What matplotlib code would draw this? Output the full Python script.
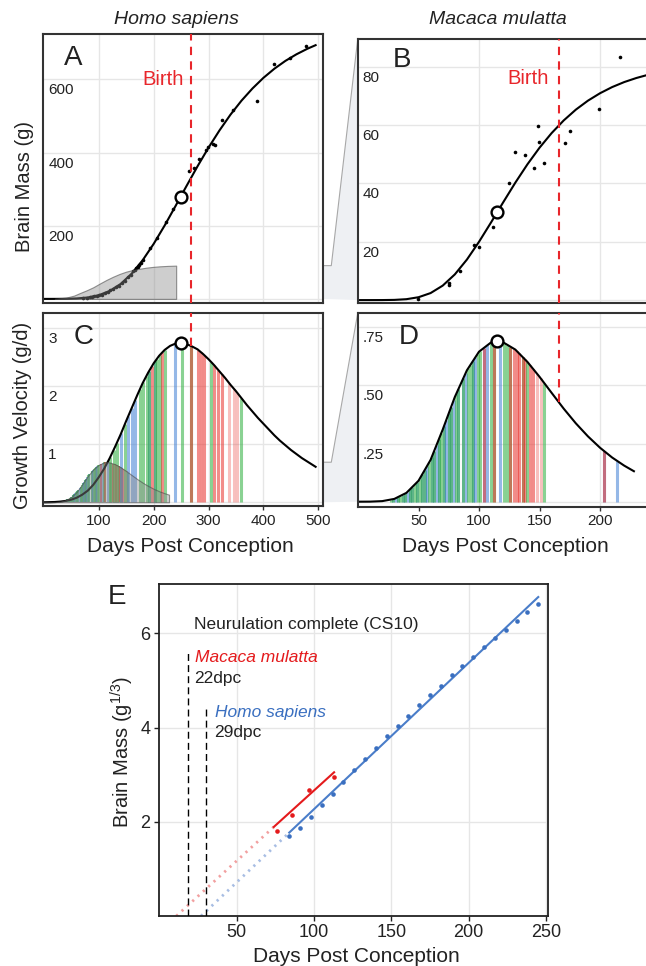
import numpy as np
import matplotlib
matplotlib.use("Agg")
import matplotlib.pyplot as plt
from matplotlib import transforms as mtransforms
from matplotlib.colors import to_rgba
from matplotlib.patches import Polygon
from matplotlib.lines import Line2D

plt.rcParams['font.family'] = ['Liberation Sans', 'DejaVu Sans']
plt.rcParams['mathtext.fontset'] = 'custom'
plt.rcParams['mathtext.rm'] = 'Liberation Sans'
plt.rcParams['mathtext.it'] = 'Liberation Sans:italic'
plt.rcParams['mathtext.default'] = 'regular'

# ---------------- data ----------------
# Homo sapiens fitted brain mass (g) and growth velocity (g/day)
hs_mass_days = [0, 20, 40, 60, 80, 100, 120, 140, 160, 180, 200, 220, 240, 249, 260, 280,
                300, 320, 340, 360, 380, 400, 420, 440, 460, 480, 495]
hs_mass = [0.0, 0.05, 0.3, 1.3, 3.9, 10.1, 21.8, 41.0, 69.0, 105.7, 150.3, 200.5, 254.2, 279.0,
           308.9, 362.6, 413.5, 460.6, 503.6, 541.7, 575.0, 604.1, 629.1, 650.4, 668.3, 683.5, 693.3]
hs_vel_days = [0, 20, 30, 40, 50, 60, 70, 80, 90, 100, 110, 120, 130, 140, 150, 160, 170, 180,
               190, 200, 210, 220, 230, 240, 249, 260, 270, 280, 290, 300, 310, 320, 330, 340,
               350, 360, 370, 380, 390, 400, 410, 420, 430, 440, 450, 460, 470, 480, 490, 495]
hs_vel = [0.0, 0.005, 0.012, 0.024, 0.045, 0.079, 0.131, 0.20, 0.30, 0.43, 0.58, 0.76, 0.96,
          1.17, 1.40, 1.62, 1.84, 2.05, 2.23, 2.39, 2.52, 2.62, 2.69, 2.73, 2.74, 2.72, 2.68,
          2.63, 2.55, 2.46, 2.36, 2.25, 2.14, 2.02, 1.91, 1.79, 1.67, 1.56, 1.45, 1.35, 1.25,
          1.15, 1.06, 0.98, 0.90, 0.83, 0.76, 0.70, 0.64, 0.61]

# Macaca mulatta fitted brain mass (g) and growth velocity (g/day)
mq_mass_days = [0, 10, 20, 30, 40, 50, 60, 70, 80, 90, 100, 110, 115, 120, 130, 140, 150, 160,
                170, 180, 190, 200, 210, 220, 230, 242]
mq_mass = [0.0, 0.0, 0.01, 0.07, 0.31, 0.98, 2.41, 4.96, 8.80, 13.89, 19.98, 26.66, 30.1, 33.53,
           40.25, 46.54, 52.23, 57.25, 61.59, 65.28, 68.36, 70.91, 73.02, 74.74, 76.13, 77.5]
mq_vel_days = [0, 10, 20, 30, 40, 50, 60, 70, 80, 90, 100, 110, 115, 120, 130, 140, 150, 160,
               170, 180, 190, 200, 210, 220, 228]
mq_vel = [0.0, 0.0003, 0.0025, 0.012, 0.038, 0.09, 0.18, 0.31, 0.45, 0.565, 0.645, 0.685, 0.689,
          0.685, 0.654, 0.601, 0.537, 0.468, 0.400, 0.337, 0.281, 0.232, 0.190, 0.155, 0.131]

hs_peak_day, hs_peak_mass, hs_peak_vel = 249, 279.0, 2.74
mq_peak_day, mq_peak_mass, mq_peak_vel = 115, 30.1, 0.689
hs_birth, mq_birth = 268, 166

# observed brain masses
hs_pt_days = [72, 78, 84, 88, 92, 97, 101, 106, 111, 116, 121, 126, 131, 137, 142, 148, 154, 159,
              162, 165.5, 168, 171, 174, 177.6, 181, 192.7, 206.7, 223, 235, 264, 273, 282,
              294.5, 298.7, 307.8, 311, 325, 344, 388, 418.5, 447.5, 477.6]
hs_pt_mass = [2.6, 3.2, 5.5, 5.2, 7.8, 8.2, 11.3, 12.0, 16.5, 18.0, 23.5, 25.8, 32.4, 36.5, 44.6,
              50.0, 60.8, 66.0, 76, 80, 84, 88, 92, 99, 106, 138, 167, 211, 247, 349, 358, 381,
              406, 415, 422, 420, 490, 515, 540, 643, 659, 690]
mq_pt_days = [49.6, 74.9, 75.5, 84.5, 96.1, 99.7, 111.6, 125, 130, 137.7, 145.2, 148.8, 149.8,
              154, 170.7, 174.9, 199.2, 216.8]
mq_pt_mass = [0.46, 5.9, 5.1, 10.1, 18.9, 18.1, 24.9, 40, 50.9, 49.9, 45.4, 59.8, 54.3, 46.9,
              53.9, 58.1, 65.4, 83.2]

# grey inset (macaque growth shown on human axes)
a_inset_days = [20, 41, 55, 65, 78, 90, 102, 114, 126, 138, 150, 162, 175, 187, 199, 211, 226, 241]
a_inset_mass = [0.2, 3.6, 9.0, 15.5, 23.5, 31.8, 42.0, 51.8, 60.5, 68.2, 74.5, 79.0, 82.5, 85.4,
                87.5, 89.0, 90.2, 90.9]

# sample lines under velocity curves (g=green, b=blue, r=red, p=pale red)
hs_line_days = [121, 127, 133, 141, 148, 154, 160, 166, 175, 181, 187, 192, 197, 203, 206, 211,
                216, 221, 239, 251, 268, 281, 286, 292, 304, 310, 318, 324, 337, 346, 352, 360]
hs_line_cols = ['g', 'g', 'g', 'b', 'g', 'b', 'b', 'b', 'g', 'g', 'g', 'bg', 'r', 'bg', 'g', 'g',
                'r', 'g', 'b', 'g', 'gr', 'r', 'r', 'r', 'g', 'r', 'r', 'r', 'p', 'p', 'p', 'g']
mq_line_days = [27, 29, 31, 33, 35, 37, 39, 41, 43, 45, 47, 49, 51, 53, 55, 57, 59, 61, 63, 65,
                67, 69, 71, 73, 75, 77, 79, 81, 83, 87, 89, 91, 93, 95, 97, 99, 101, 104, 107,
                110, 112, 117, 121, 123, 126, 129, 131, 133, 136, 138, 140, 142, 145, 148, 151,
                154, 203, 214]
mq_line_cols = ['g', 'bg', 'b', 'bg', 'g', 'bg', 'bg', 'b', 'bg', 'bg', 'g', 'bg', 'g', 'bg', 'bg',
                'b', 'g', 'bg', 'bg', 'b', 'bg', 'g', 'bg', 'b', 'bg', 'bg', 'b', 'g', 'bg', 'bg',
                'b', 'g', 'g', 'bg', 'b', 'g', 'g', 'br', 'b', 'g', 'gr', 'b', 'g', 'g', 'gr', 'r',
                'r', 'r', 'gr', 'r', 'g', 'r', 'r', 'p', 'p', 'g', 'br', 'b']

# panel E: cube-root brain mass
hs_e_days = [84, 91, 98, 105, 112, 119, 126, 133, 140, 147, 154, 161, 168, 175, 182, 189, 196,
             203, 210, 217, 224, 231, 238, 245]
hs_e_vals = [1.69, 1.87, 2.10, 2.35, 2.59, 2.85, 3.09, 3.33, 3.57, 3.81, 4.04, 4.25, 4.48, 4.70,
             4.89, 5.11, 5.31, 5.50, 5.70, 5.89, 6.08, 6.26, 6.45, 6.63]
mq_e_days = [76, 86, 97, 113]
mq_e_vals = [1.80, 2.14, 2.68, 2.95]
hs_fit_days = [27, 84, 245]
hs_fit_vals = [0.0, 1.77, 6.77]
mq_fit_days = [11, 74, 113]
mq_fit_vals = [0.0, 1.89, 3.05]
cs10_mq_day, cs10_hs_day = 18.3, 30.0

# ---------------- figure ----------------
W, H = 646, 966
fig = plt.figure(figsize=(W / 100, H / 100), dpi=100)
fig.patch.set_facecolor('white')


def place(l, t, r, b):
    return fig.add_axes([l / W, 1 - b / H, (r - l) / W, (b - t) / H])


axA = place(43.3, 34.3, 323.3, 303.0)
axB = place(357.7, 39.3, 650.0, 303.3)
axC = place(43.3, 313.3, 323.3, 506.0)
axD = place(357.7, 313.3, 650.0, 506.7)
axE = place(159.0, 584.3, 548.0, 916.0)

axA.set_xlim(-1, 509); axA.set_ylim(-11.2, 723)
axB.set_xlim(-0.25, 241.3); axB.set_ylim(-1.1, 89.4)
axC.set_xlim(-1, 509); axC.set_ylim(-0.064, 3.25)
axD.set_xlim(-0.25, 241.3); axD.set_ylim(-0.0215, 0.81)
axE.set_xlim(-0.2, 251.3); axE.set_ylim(0, 7.04)

SPINE = '#333333'
GRID = '#e6e6e6'
RED = '#e8262b'
TXT = '#222222'


def style_panel(ax, xgrid, ygrid, yvals, ytxt, xticks=None):
    for s in ax.spines.values():
        s.set_color(SPINE)
        s.set_linewidth(1.5)
    ax.set_yticks([])
    for v in xgrid:
        ax.axvline(v, color=GRID, lw=1.0, zorder=0)
    for v in ygrid:
        ax.axhline(v, color=GRID, lw=1.0, zorder=0)
    off = mtransforms.ScaledTranslation(0.05, -0.11, fig.dpi_scale_trans)
    tr = mtransforms.blended_transform_factory(ax.transAxes, ax.transData) + off
    for v, t in zip(yvals, ytxt):
        ax.text(0, v, t, transform=tr, ha='left', va='center', fontsize=11, color=TXT)
    if xticks is None:
        ax.set_xticks([])
    else:
        ax.set_xticks(xticks)
        ax.set_xticklabels([str(x) for x in xticks])
        ax.tick_params(axis='x', direction='out', length=3, width=1, color=SPINE, pad=2.5,
                       labelsize=11, labelcolor=TXT)


style_panel(axA, [100, 200, 300, 400, 500], [0, 200, 400, 600], [200, 400, 600], ['200', '400', '600'])
style_panel(axB, [100, 200], [0, 20, 40, 60, 80], [20, 40, 60, 80], ['20', '40', '60', '80'])
style_panel(axC, [100, 200, 300, 400, 500], [0, 1, 2, 3], [1, 2, 3], ['1', '2', '3'],
            xticks=[100, 200, 300, 400, 500])
style_panel(axD, [100, 200], [0, 0.25, 0.5, 0.75], [0.25, 0.5, 0.75], ['.25', '.50', '.75'],
            xticks=[50, 100, 150, 200])

LINE_RGB = {'g': '#3cb44b', 'b': '#3f7fd4', 'r': '#e8302a', 'p': '#e8302a'}
LINE_ALPHA = {'g': 0.6, 'b': 0.55, 'r': 0.55, 'p': 0.3}


def draw_lines(ax, days, codes, cdays, cvals, lw, z=1):
    xs, tops, cols = [], [], []
    top_all = np.interp(days, cdays, cvals)
    for d, code, t in zip(days, codes, top_all):
        for ch in code:
            xs.append(d)
            tops.append(t)
            cols.append(to_rgba(LINE_RGB[ch], LINE_ALPHA[ch]))
    ax.vlines(xs, 0, tops, colors=cols, linewidth=lw, zorder=z)


GREY_FC = (0.55, 0.55, 0.55, 0.42)
GREY_EC = (0.3, 0.3, 0.3, 0.6)

# ---- A ----
axA.plot(hs_mass_days, hs_mass, color='black', lw=1.5, zorder=2)
axA.plot(hs_pt_days, hs_pt_mass, 'o', ms=2.6, color='black', mew=0, zorder=2.5)
axA.fill_between(a_inset_days, 0, a_inset_mass, facecolor=GREY_FC, edgecolor=GREY_EC, lw=0.8, zorder=3)
axA.axvline(hs_birth, color=RED, lw=1.5, dashes=(4, 3), zorder=4)
axA.plot([hs_peak_day], [hs_peak_mass], 'o', ms=8.5, mfc='white', mec='black', mew=1.7, zorder=5)
axA.text(hs_birth - 14, 600, 'Birth', color=RED, fontsize=14.5, ha='right', va='center')

# ---- B ----
axB.plot(mq_mass_days, mq_mass, color='black', lw=1.5, zorder=2)
axB.plot(mq_pt_days, mq_pt_mass, 'o', ms=2.6, color='black', mew=0, zorder=2.5)
axB.axvline(mq_birth, color=RED, lw=1.5, dashes=(4, 3), zorder=4)
axB.plot([mq_peak_day], [mq_peak_mass], 'o', ms=8.5, mfc='white', mec='black', mew=1.7, zorder=5)
axB.text(mq_birth - 8, 75.8, 'Birth', color=RED, fontsize=14.5, ha='right', va='center')

# ---- C ----
draw_lines(axC, mq_line_days, mq_line_cols, mq_vel_days, mq_vel, lw=1.5)
draw_lines(axC, hs_line_days, hs_line_cols, hs_vel_days, hs_vel, lw=2.2)
axC.plot(hs_vel_days, hs_vel, color='black', lw=1.5, zorder=2)
axC.fill_between(mq_vel_days, 0, mq_vel, facecolor=GREY_FC, edgecolor=GREY_EC, lw=0.8, zorder=3)
axC.vlines(hs_birth, np.interp(hs_birth, hs_vel_days, hs_vel), axC.get_ylim()[1], color=RED,
           lw=1.5, linestyles=[(0, (4, 3))], zorder=4)
axC.plot([hs_peak_day], [hs_peak_vel], 'o', ms=8.5, mfc='white', mec='black', mew=1.7, zorder=5)

# ---- D ----
draw_lines(axD, mq_line_days, mq_line_cols, mq_vel_days, mq_vel, lw=2.2)
axD.plot(mq_vel_days, mq_vel, color='black', lw=1.5, zorder=2)
axD.vlines(mq_birth, np.interp(mq_birth, mq_vel_days, mq_vel), axD.get_ylim()[1], color=RED,
           lw=1.5, linestyles=[(0, (4, 3))], zorder=4)
axD.plot([mq_peak_day], [mq_peak_vel], 'o', ms=8.5, mfc='white', mec='black', mew=1.7, zorder=5)

# ---- connectors ----
inv = fig.transFigure.inverted()


def fig_pt(ax, xa, yd):
    """x in axes fraction, y in data units -> figure fraction"""
    dx = ax.transAxes.transform((xa, 0))[0]
    dy = ax.transData.transform((0, yd))[1]
    return inv.transform((dx, dy))


def connector(src, dst, ytop):
    p1 = fig_pt(src, 1, ytop)
    p2 = p1 + np.array([8 / W, 0])
    p3 = inv.transform(dst.transAxes.transform((0, 1)))
    p4 = fig_pt(dst, 0, 0)
    p5 = fig_pt(src, 1, 0)
    fig.add_artist(Polygon([p1, p2, p3, p4, p5], closed=True, transform=fig.transFigure,
                           facecolor='#eef0f3', edgecolor='none', zorder=-2))
    fig.add_artist(Line2D([p1[0], p2[0], p3[0]], [p1[1], p2[1], p3[1]], transform=fig.transFigure,
                          color='#a8a8a8', lw=0.8, zorder=-1))


connector(axA, axB, max(a_inset_mass))
connector(axC, axD, max(mq_vel))

# ---- E ----
BLUE = '#3a6fc0'
EBLUE_LINE = '#4a7dc9'
ERED = '#e41a1c'
for s in axE.spines.values():
    s.set_color('#222222')
    s.set_linewidth(1.3)
axE.set_xticks([50, 100, 150, 200, 250])
axE.set_yticks([2, 4, 6])
axE.tick_params(direction='out', length=3.6, width=1, color='#222222', labelsize=13, pad=2.5,
                labelcolor=TXT)
for v in [50, 100, 150, 200, 250]:
    axE.axvline(v, color=GRID, lw=1.0, zorder=0)
for v in [2, 4, 6]:
    axE.axhline(v, color=GRID, lw=1.0, zorder=0)

axE.plot(mq_fit_days[:2], mq_fit_vals[:2], color='#f2a0a0', lw=2, ls=(0, (0.8, 1.8)), zorder=2)
axE.plot(hs_fit_days[:2], hs_fit_vals[:2], color='#a7bde3', lw=2, ls=(0, (0.8, 1.8)), zorder=2)
axE.plot(mq_fit_days[1:], mq_fit_vals[1:], color=ERED, lw=1.5, zorder=3)
axE.plot(hs_fit_days[1:], hs_fit_vals[1:], color=EBLUE_LINE, lw=1.5, zorder=3)
axE.plot(mq_e_days, mq_e_vals, 'o', ms=3.3, color=ERED, mew=0, zorder=4)
axE.plot(hs_e_days, hs_e_vals, 'o', ms=3.3, color=BLUE, mew=0, zorder=4)

axE.vlines([cs10_mq_day], 0, 5.65, color='black', lw=1.0, linestyles=[(0, (5, 3))], zorder=3)
axE.vlines([cs10_hs_day], 0, 4.46, color='black', lw=1.0, linestyles=[(0, (5, 3))], zorder=3)
axE.text(22.4, 6.18, 'Neurulation complete (CS10)', fontsize=12.5, color=TXT, ha='left', va='center')
axE.text(23.1, 5.49, 'Macaca mulatta', fontsize=12.5, color=ERED, style='italic', ha='left', va='center')
axE.text(22.4, 5.045, '22dpc', fontsize=12.5, color=TXT, ha='left', va='center')
axE.text(36.0, 4.32, 'Homo sapiens', fontsize=12.5, color=BLUE, style='italic', ha='left', va='center')
axE.text(35.3, 3.89, '29dpc', fontsize=12.5, color=TXT, ha='left', va='center')


# ---- figure-level text ----
def ftext(x, y, s, **kw):
    fig.text(x / W, 1 - y / H, s, ha='center', va='center', **kw)


ftext(176.5, 20, 'Homo sapiens', fontsize=14, style='italic', color=TXT)
ftext(497.5, 20, 'Macaca mulatta', fontsize=14, style='italic', color=TXT)
ftext(73, 58, 'A', fontsize=20, color=TXT)
ftext(401.7, 60, 'B', fontsize=20, color=TXT)
ftext(84, 337.5, 'C', fontsize=20, color=TXT)
ftext(409, 337.5, 'D', fontsize=20, color=TXT)
ftext(117.5, 597, 'E', fontsize=20, color=TXT)
ftext(25, 187, 'Brain Mass (g)', fontsize=14.5, rotation=90, color=TXT)
ftext(23, 415, 'Growth Velocity (g/d)', fontsize=14.5, rotation=90, color=TXT)
ftext(190.8, 546.7, 'Days Post Conception', fontsize=15, color=TXT)
ftext(505, 546.7, 'Days Post Conception', fontsize=15, color=TXT)
ftext(356.7, 956, 'Days Post Conception', fontsize=15, color=TXT)
ftext(122, 752.5, 'Brain Mass (g$^{1/3}$)', fontsize=14.5, rotation=90, color=TXT)

fig.savefig('out.png', dpi=100, facecolor='white')
